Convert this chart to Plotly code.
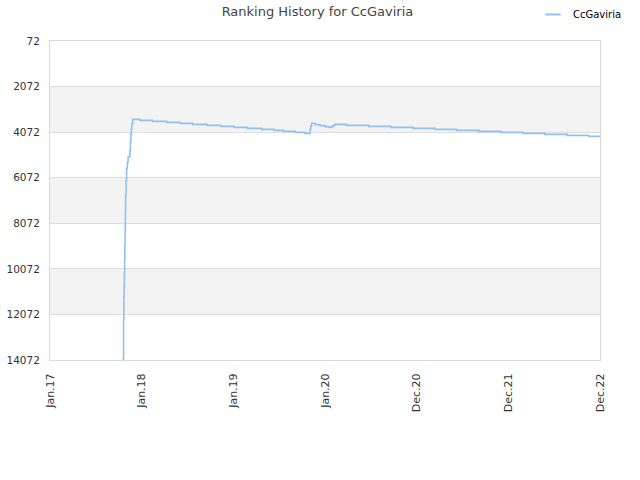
import plotly.graph_objects as go

dates = [
    "2017-10-15", "2017-10-21", "2017-10-22", "2017-10-23", "2017-10-24", "2017-10-25",
    "2017-10-26", "2017-10-27", "2017-10-28", "2017-10-29", "2017-10-31", "2017-11-02",
    "2017-11-05", "2017-11-08", "2017-11-15", "2017-11-17", "2017-11-19", "2017-11-21",
    "2017-11-23", "2017-11-26", "2017-12-25", "2018-02-14", "2018-04-11", "2018-06-03",
    "2018-07-23", "2018-09-17", "2018-11-12", "2019-01-04", "2019-02-26", "2019-04-24",
    "2019-06-12", "2019-07-19", "2019-09-04", "2019-10-13", "2019-11-03", "2019-11-05",
    "2019-11-09", "2019-11-22", "2019-12-12", "2020-01-01", "2020-01-18", "2020-01-28",
    "2020-02-03", "2020-02-10", "2020-03-27", "2020-06-24", "2020-09-19", "2020-12-18",
    "2021-03-14", "2021-06-08", "2021-09-05", "2021-12-02", "2022-02-27", "2022-05-26",
    "2022-08-22", "2022-11-17", "2022-12-31",
]
ranks = [
    14072, 12270, 11300, 10820, 10290, 9680,
    9040, 8400, 7600, 6870, 6200, 5650,
    5400, 5150, 4900, 4500, 4150, 3900,
    3700, 3510, 3554, 3598, 3642, 3686,
    3730, 3774, 3818, 3862, 3905, 3949,
    3993, 4037, 4081, 4125, 3950, 3800,
    3685, 3743, 3787, 3831, 3861, 3817,
    3773, 3729, 3773, 3817, 3861, 3905,
    3949, 3993, 4037, 4081, 4125, 4169,
    4213, 4257, 4257,
]

y_ticks = [72, 2072, 4072, 6072, 8072, 10072, 12072, 14072]
x_tick_vals = ["2017-01-01", "2018-01-01", "2019-01-01", "2020-01-01",
               "2020-12-31", "2021-12-31", "2022-12-31"]
x_tick_text = ["Jan.17", "Jan.18", "Jan.19", "Jan.20", "Dec.20", "Dec.21", "Dec.22"]
player = "CcGaviria"
line_color = "#8fc1f3"

fig = go.Figure()
fig.add_trace(go.Scatter(
    x=dates, y=ranks, mode="lines", name=player, showlegend=False,
    line=dict(color=line_color, width=1.6, shape="hv"),
))
# legend entry with a short line symbol, as in the reference
fig.add_trace(go.Scatter(
    x=[None], y=[None], mode="markers", name=player, showlegend=True,
    marker=dict(symbol="line-ew-open", size=11, color=line_color,
                line=dict(color=line_color, width=2)),
))

shapes = []
for i in range(len(y_ticks) - 1):
    if i % 2 == 1:
        shapes.append(dict(type="rect", xref="paper", yref="y", x0=0, x1=1,
                           y0=y_ticks[i], y1=y_ticks[i + 1],
                           fillcolor="#f3f3f3", line=dict(width=0), layer="below"))

fig.update_layout(
    width=640, height=480,
    margin=dict(l=50, r=40, t=41, b=120, autoexpand=False),
    paper_bgcolor="white", plot_bgcolor="white",
    font=dict(family="DejaVu Sans", size=11, color="#333333"),
    title=dict(text="Ranking History for " + player, x=0.496, xanchor="center", xref="container",
               y=0.986, yanchor="top", font=dict(size=13, color="#444444")),
    showlegend=True,
    legend=dict(x=533 / 640, xanchor="left", xref="container",
                y=1.0, yanchor="top", yref="container",
                font=dict(size=10, color="#000000"), bgcolor="rgba(0,0,0,0)"),
    shapes=shapes,
    xaxis=dict(type="date", range=["2017-01-01", "2022-12-31"],
               tickvals=x_tick_vals, ticktext=x_tick_text, tickangle=-90,
               showgrid=False, showline=True, linecolor="#d8d8d8", mirror=True,
               ticks="", zeroline=False, ticklabelstandoff=8,
               tickfont=dict(size=11, color="#333333")),
    yaxis=dict(range=[14072, 72], tickvals=y_ticks, ticktext=[str(v) for v in y_ticks],
               showgrid=True, gridcolor="#dddddd", gridwidth=1,
               showline=True, linecolor="#d8d8d8", mirror=True,
               ticks="", zeroline=False, ticklabelstandoff=7,
               tickfont=dict(size=10.5, color="#333333")),
)

fig.write_html("out.html", config={"displayModeBar": False},
               post_script="document.body.style.margin='0px';")
